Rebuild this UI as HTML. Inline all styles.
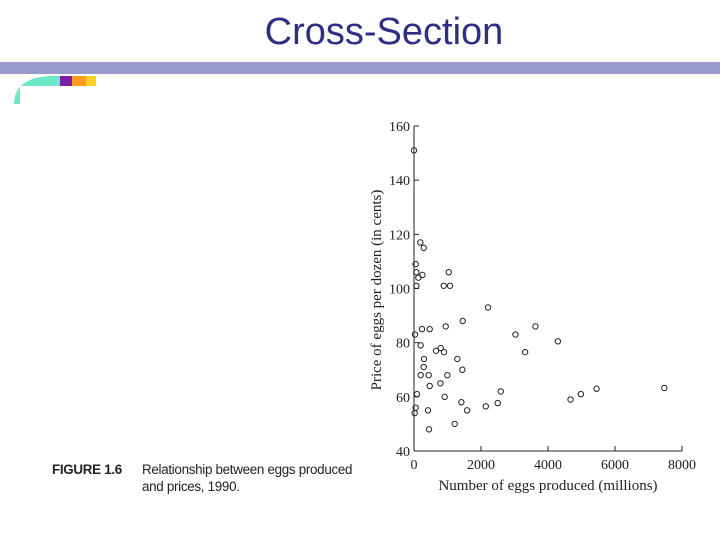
<!DOCTYPE html>
<html><head><meta charset="utf-8"><style>
body{margin:0;background:#fff;width:720px;height:540px;overflow:hidden;position:relative;font-family:"Liberation Sans",sans-serif}
#title{position:absolute;left:0;width:768px;text-align:center;top:11px;font-size:38px;color:#2e2e85}
#bar{position:absolute;left:0;top:62px;width:720px;height:12px;background:#9999cc}
#cap{position:absolute;left:52px;top:461px;font-size:13.4px;color:#222;line-height:17px;letter-spacing:-0.3px}
</style></head><body>
<div id="title">Cross-Section</div>
<div id="bar"></div>
<svg style="position:absolute;left:10px;top:74px" width="90" height="32">
<path d="M4,30 Q4,4 40,2 L84,2 L84,12 L10,12 L10,30 Z" fill="#6fe8c8"/>
<rect x="50" y="2" width="12" height="10" fill="#7a1fa8"/><rect x="62" y="2" width="14" height="10" fill="#ff9a20"/><rect x="76" y="2" width="10" height="10" fill="#ffd020"/>
</svg>
<div id="cap"><b style="display:inline-block;width:90px">FIGURE 1.6</b>Relationship between eggs produced<br><span style="margin-left:90px">and prices, 1990.</span></div>
<svg id="chart" style="position:absolute;left:0;top:0" width="720" height="540"></svg>
<script>
const xTicks=[0,2000,4000,6000,8000];
const yTicks=[40,60,80,100,120,140,160];
const eggsX=[0,190,290,50,70,130,250,70,1036,887,1076,2211,1454,946,239,468,30,3029,3626,4294,199,657,797,897,3317,1295,299,289,1444,199,438,996,468,787,90,916,2590,1414,1584,2142,2500,4672,4981,5449,7472,50,20,418,1215,448];
const priceY=[151,117,115,109,106,104,105,101,106,101,101,93,88,86,85,85,83,83,86,80.5,79,77,78,76.5,76.5,74,74,71,70,68,68,68,64,65,61,60,62,58,55,56.5,57.7,59,61,63,63.3,56,54,55,50,48];
const svg=document.getElementById('chart');const NS='http://www.w3.org/2000/svg';
const X=v=>414+v/8000*268, Y=v=>451-(v-40)/120*325;
function mk(t,a,txt){const e=document.createElementNS(NS,t);for(const k in a)e.setAttribute(k,a[k]);if(txt!==undefined)e.textContent=txt;svg.appendChild(e);return e;}
const F='"Liberation Serif",serif';
let e=mk('line',{x1:414,y1:451,x2:682,y2:451,stroke:'#222','stroke-width':1});


e=mk('line',{x1:414,y1:451,x2:414,y2:Y(160),stroke:'#222','stroke-width':1});


xTicks.forEach(t=>{mk('line',{x1:X(t),y1:451,x2:X(t),y2:446,stroke:'#222'});
e=mk('text',{x:X(t),y:469,'text-anchor':'middle','font-size':14,'font-family':F,fill:'#222'},t);

});
yTicks.forEach(t=>{mk('line',{x1:414,y1:Y(t),x2:419,y2:Y(t),stroke:'#222'});
e=mk('text',{x:410,y:Y(t)+5,'text-anchor':'end','font-size':14,'font-family':F,fill:'#222'},t);

});
e=mk('text',{x:548,y:490,'text-anchor':'middle','font-size':15,'font-family':F,fill:'#222'},'Number of eggs produced (millions)');


e=mk('text',{x:381,y:290,'text-anchor':'middle','font-size':15,'font-family':F,fill:'#222',transform:'rotate(-90 381 290)'},'Price of eggs per dozen (in cents)');


eggsX.forEach((x,i)=>{e=mk('circle',{cx:X(x),cy:Y(priceY[i]),r:2.7,fill:'none',stroke:'#222','stroke-width':1});

});
</script>
</body></html>
